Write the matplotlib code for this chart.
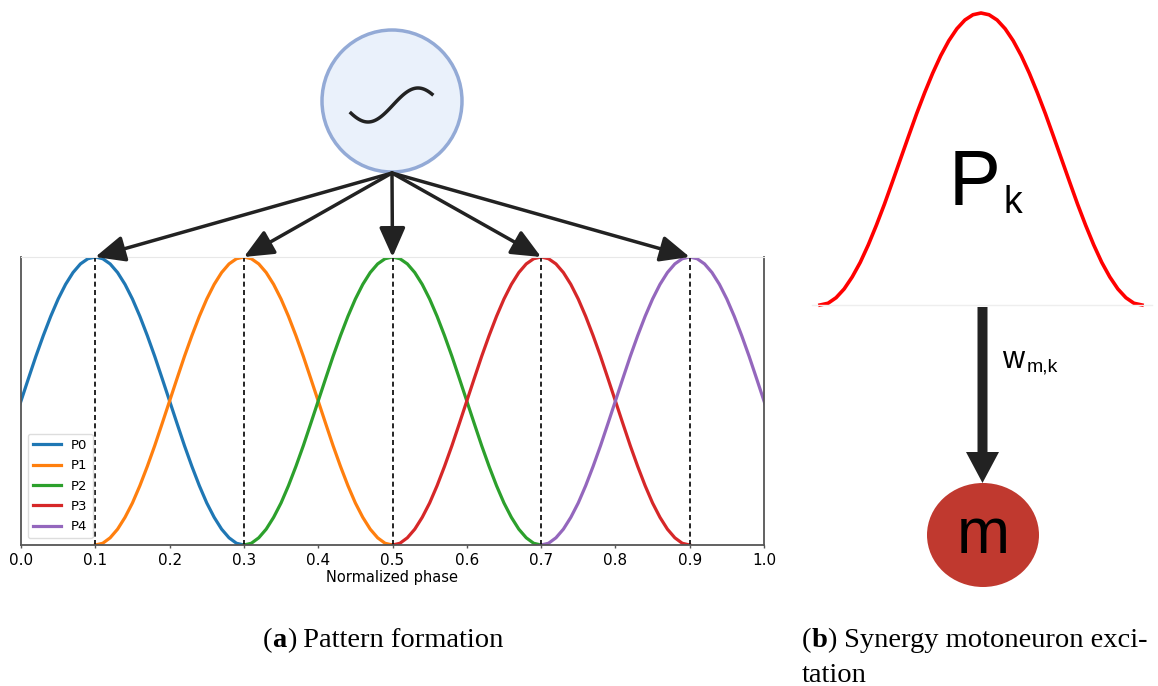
import numpy as np
import matplotlib
matplotlib.use("Agg")
import matplotlib.pyplot as plt
from matplotlib.patches import Ellipse, FancyArrow

# pattern centres on the normalized phase and the shared bump profile
pattern_names = ["P0", "P1", "P2", "P3", "P4"]
pattern_centers = [0.1, 0.3, 0.5, 0.7, 0.9]
pattern_colors = ["#1f77b4", "#ff7f0e", "#2ca02c", "#d62728", "#9467bd"]
bump_offsets = [-0.20, -0.19, -0.18, -0.17, -0.16, -0.15, -0.14, -0.13, -0.12, -0.11,
                -0.10, -0.09, -0.08, -0.07, -0.06, -0.05, -0.04, -0.03, -0.02, -0.01,
                0.00, 0.01, 0.02, 0.03, 0.04, 0.05, 0.06, 0.07, 0.08, 0.09,
                0.10, 0.11, 0.12, 0.13, 0.14, 0.15, 0.16, 0.17, 0.18, 0.19, 0.20]
bump_profile = [0.000, 0.006, 0.025, 0.055, 0.096, 0.146, 0.206, 0.273, 0.345, 0.422,
                0.500, 0.578, 0.655, 0.727, 0.794, 0.854, 0.905, 0.946, 0.976, 0.994,
                1.000, 0.994, 0.976, 0.946, 0.905, 0.854, 0.794, 0.727, 0.655, 0.578,
                0.500, 0.422, 0.345, 0.273, 0.206, 0.146, 0.096, 0.055, 0.025, 0.006, 0.000]
phase_ticks = [0.0, 0.1, 0.2, 0.3, 0.4, 0.5, 0.6, 0.7, 0.8, 0.9, 1.0]

W, H = 1158, 686
fig = plt.figure(figsize=(W / 100, H / 100), dpi=100)

def px_box(x0, y0, x1, y1):
    # pixel box (top-left origin) -> figure fraction rect
    return [x0 / W, 1 - y1 / H, (x1 - x0) / W, (y1 - y0) / H]

# ---- (a) pattern plot
ax = fig.add_axes(px_box(21, 257, 764, 545))
offs = np.array(bump_offsets)
for name, c, col in zip(pattern_names, pattern_centers, pattern_colors):
    ax.plot(c + offs, bump_profile, color=col, lw=2.3, label=name)
for c in pattern_centers:
    ax.axvline(c, color="k", ls="--", lw=1.2, dashes=(3, 2))
ax.set_xlim(0, 1)
ax.set_ylim(0, 1)
ax.set_yticks([])
ax.set_xticks(phase_ticks)
ax.set_xticklabels(["%.1f" % t for t in phase_ticks])
ax.tick_params(axis="x", labelsize=11, length=2, width=1, color="#555", pad=4)
ax.set_xlabel("Normalized phase", fontsize=10.5, labelpad=1)
for s in ["left", "bottom", "right"]:
    ax.spines[s].set_color("#555")
    ax.spines[s].set_linewidth(1.3)
ax.spines["top"].set_color("#e8e8e8")
ax.legend(loc="lower left", fontsize=9.5, handlelength=2.1, labelspacing=0.55,
          borderpad=0.4, framealpha=1, edgecolor="#ddd")

# ---- (b) red P_k bump
ax_pk = fig.add_axes(px_box(820, 13, 1142, 305))
ax_pk.plot(bump_offsets, bump_profile, color="red", lw=2.6, clip_on=False)
ax_pk.set_xlim(-0.2, 0.2)
ax_pk.set_ylim(0, 1)
ax_pk.axis("off")

# ---- overlay in pixel coordinates for the diagram parts
ov = fig.add_axes([0, 0, 1, 1])
ov.set_xlim(0, W)
ov.set_ylim(H, 0)
ov.axis("off")
ov.patch.set_alpha(0)

# oscillator circle with sine glyph
ov.add_patch(Ellipse((392, 101), 140, 142, facecolor="#eaf1fb", edgecolor="#93aad6", lw=2.5))
th = np.linspace(0.16 * np.pi, 1.78 * np.pi, 100)
ov.plot(351 + (th - 0.16 * np.pi) * 50 / np.pi, 105 + 17 * np.sin(th), color="#222", lw=2.5)

# arrows from oscillator to each pattern peak
to_px = lambda v: 21 + v * (764 - 21)
for c in pattern_centers:
    ov.annotate("", xy=(to_px(c), 257), xytext=(392, 173),
                arrowprops=dict(arrowstyle="-|>,head_length=0.9,head_width=0.4", color="#222",
                                lw=2.5, shrinkA=0, shrinkB=0, mutation_scale=20))

# baseline under P_k
ov.plot([812, 1152], [305, 305], color="#eeeeee", lw=1)
ov.text(949, 205, "P", fontsize=56, family="Liberation Sans", ha="left", va="baseline")
ov.text(1003, 213, "k", fontsize=27, family="Liberation Sans", ha="left", va="baseline")

# weight arrow and motoneuron
ov.add_patch(FancyArrow(982.5, 307, 0, 176, width=10, head_width=33, head_length=31,
                        length_includes_head=True, color="#222", lw=0))
ov.text(1002, 368, "w", fontsize=22, family="Liberation Sans", ha="left", va="baseline")
ov.text(1027, 372, "m,k", fontsize=14, family="Liberation Sans", ha="left", va="baseline")
ov.add_patch(Ellipse((983, 535), 112, 104, facecolor="#c0392f", edgecolor="none"))
ov.text(983, 553, "m", fontsize=46, family="Liberation Sans", ha="center", va="baseline")

# captions
renderer = fig.canvas.get_renderer()

def caption(x, y, pieces):
    for s, w in pieces:
        t = ov.text(x, y, s, fontsize=20.5, family="Liberation Serif", fontweight=w,
                    ha="left", va="baseline")
        bb = t.get_window_extent(renderer)
        x += bb.width

caption(263, 647, [("(", "normal"), ("a", "bold"), (")", "normal"), (" Pattern formation", "normal")])
caption(802, 647, [("(", "normal"), ("b", "bold"), (")", "normal"), (" Synergy motoneuron exci-", "normal")])
caption(802, 682, [("tation", "normal")])

fig.savefig("out.png", dpi=100)
